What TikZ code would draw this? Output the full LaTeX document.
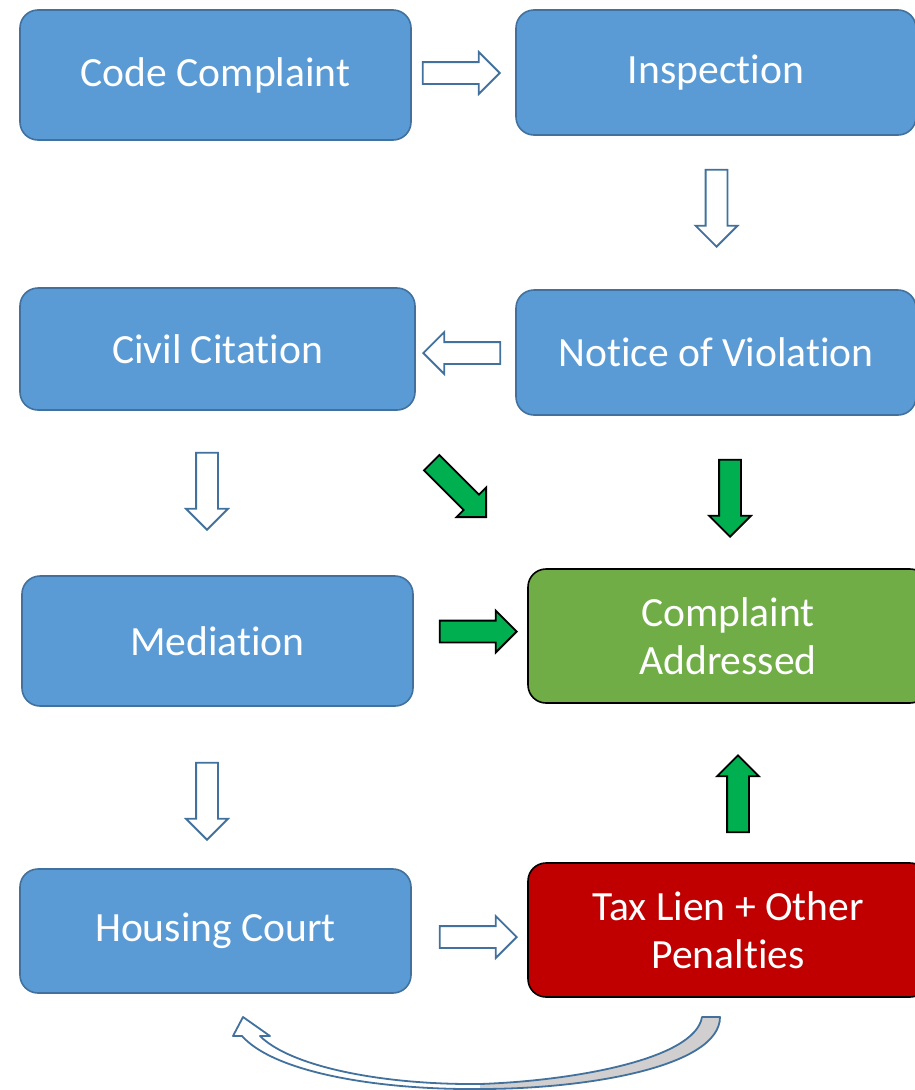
\documentclass[tikz,border=0pt]{standalone}
\usepackage{fontspec}
\setmainfont{Carlito}[Ligatures=NoCommon]
\usetikzlibrary{shapes.arrows}

\definecolor{boxblue}{HTML}{5B9BD5}
\definecolor{edgeblue}{HTML}{41719C}
\definecolor{boxgreen}{HTML}{70AD47}
\definecolor{boxred}{HTML}{C00000}
\definecolor{arrgreen}{HTML}{00B050}
\definecolor{backgray}{HTML}{D0CECE}

\tikzset{
	stagebox/.style={draw=edgeblue, fill=boxblue, line width=1.6pt, rounded corners=18pt, text=white, align=center, font=\fontsize{41.6}{48}\selectfont},
	endbox/.style={stagebox, draw=black},
	hollowarrow/.style={single arrow, anchor=tip, draw=edgeblue, fill=white, line width=1.8pt, minimum height=77pt, inner sep=10pt, single arrow head extend=10pt},
	greenarrow/.style={hollowarrow, draw=black, fill=arrgreen}
}

\begin{document}
\begin{tikzpicture}[x=1pt, y=-1pt]
	\useasboundingbox (0, 0) rectangle (915, 1090);

	\node [stagebox, minimum width=391pt, minimum height=130pt] (code) at (215.5, 75) {Code Complaint};
	\node [stagebox, minimum width=400pt, minimum height=125pt] (inspect) at (716, 72.5) {Inspection};
	\node [stagebox, minimum width=395pt, minimum height=122pt] (civil) at (217.5, 349) {Civil Citation};
	\node [stagebox, minimum width=400pt, minimum height=125pt] (notice) at (716, 352.5) {Notice of Violation};
	\node [stagebox, minimum width=391pt, minimum height=130pt] (mediation) at (217.5, 641) {Mediation};
	\node [endbox, fill=boxgreen, minimum width=400pt, minimum height=134pt] (addressed) at (728, 636) {Complaint\\Addressed};
	\node [stagebox, minimum width=391pt, minimum height=124pt] (housing) at (215.5, 931) {Housing Court};
	\node [endbox, fill=boxred, minimum width=400pt, minimum height=134pt] (lien) at (728, 930) {Tax Lien + Other\\Penalties};

	\node [hollowarrow] (codeinspect) at (501, 73) {};
	\node [hollowarrow, rotate=-90] (inspectnotice) at (716.5, 248) {};
	\node [hollowarrow, rotate=180] (noticecivil) at (422, 353) {};
	\node [hollowarrow, rotate=-90] (civilmediation) at (207, 531) {};
	\node [hollowarrow, rotate=-90] (mediationhousing) at (207, 841) {};
	\node [hollowarrow] (housinglien) at (518, 937) {};

	\node [greenarrow, rotate=-45] (civildone) at (487, 518) {};
	\node [greenarrow, rotate=-90] (noticedone) at (730, 538) {};
	\node [greenarrow] (mediationdone) at (518, 631.5) {};
	\node [greenarrow, rotate=90] (liendone) at (738, 754) {};

	\def\loopband{(720, 1017) -- (702, 1017) .. controls (695, 1060) and (570, 1081) .. (480, 1084) .. controls (380, 1085) and (290, 1066) .. (260, 1036) -- (270, 1036) -- (243, 1017) -- (233, 1036) -- (242, 1036) .. controls (275, 1073) and (380, 1090) .. (480, 1089) .. controls (590, 1089) and (720, 1066) .. (720, 1017) -- cycle}
	\fill [white] \loopband;
	\begin{scope}
		\clip (480, 1000) rectangle (730, 1095);
		\fill [backgray] \loopband;
	\end{scope}
	\draw [edgeblue, line width=1.8pt, line join=round] \loopband;
\end{tikzpicture}
\end{document}
